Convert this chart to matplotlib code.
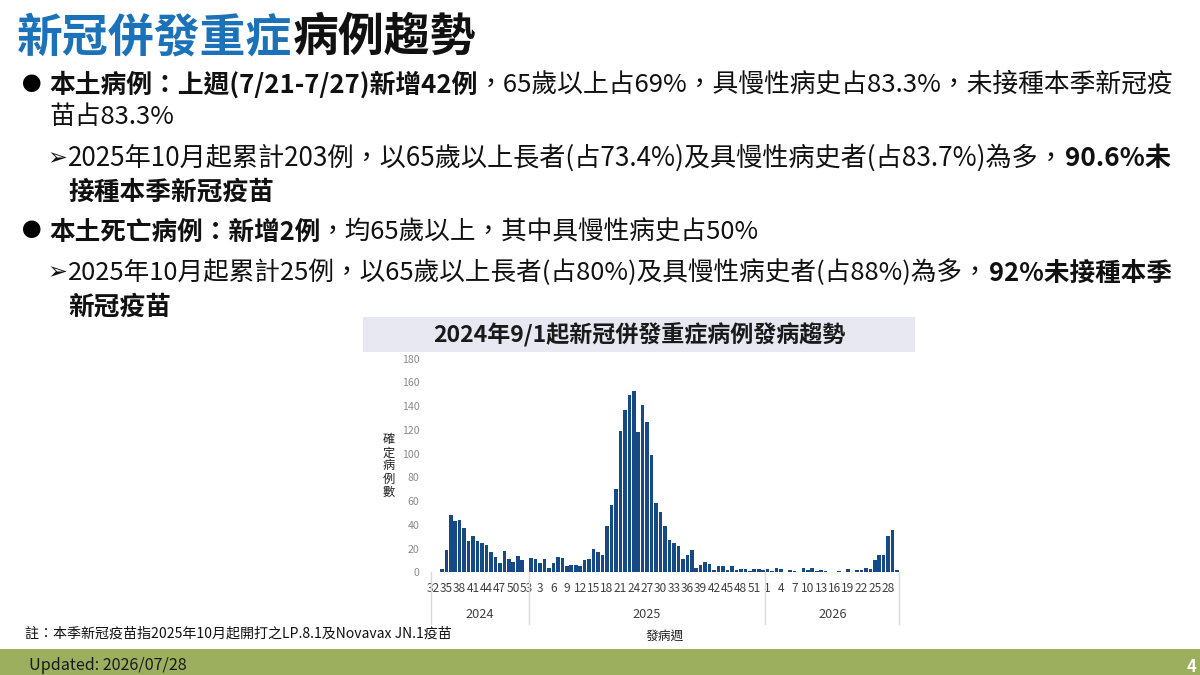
import matplotlib
matplotlib.use("Agg")
import matplotlib.pyplot as plt
from matplotlib.patches import Rectangle
from matplotlib.transforms import blended_transform_factory

FAM = ['Noto Sans CJK TC', 'DejaVu Sans']
plt.rcParams['font.family'] = FAM

cases_2024 = [0,0,3,19,48,43,44,37,26,31,26,25,23,17,13,8,18,11,9,14,10,0]
cases_2025 = [12,11,8,11,4,8,13,12,5,6,6,5,10,11,20,17,15,39,57,70,119,137,149,153,118,141,127,
              99,58,51,39,27,25,22,11,15,19,4,6,9,7,2,5,5,2,5,2,3,3,1,3,3,2]
cases_2026 = [3,1,4,3,0,2,1,0,4,2,4,1,2,1,0,0,1,0,3,0,2,2,4,3,10,15,15,31,36,2]
weeks_2024 = list(range(32, 54))
weeks_2025 = list(range(1, 54))
weeks_2026 = list(range(1, 31))
years = ['2024', '2025', '2026']
y_ticks = [0, 20, 40, 60, 80, 100, 120, 140, 160, 180]

W, H = 1200, 675
fig = plt.figure(figsize=(W/100, H/100), dpi=100, facecolor='white')
bg = fig.add_axes([0, 0, 1, 1])
bg.set_xlim(0, W); bg.set_ylim(H, 0); bg.axis('off')
renderer = fig.canvas.get_renderer()

def run(x, y, parts, size):
    for s, color, bold in parts:
        t = bg.text(x, y, s, fontsize=size, color=color, va='center', ha='left',
                    fontweight='bold' if bold else 'normal', family=FAM)
        x = t.get_window_extent(renderer).x1

BLUE = '#1B72B8'
K = '#111111'
run(17, 38, [('新冠併發重症', BLUE, True), ('病例趨勢', K, True)], 33)
B = 18.5
bg.text(22, 85, '●', fontsize=14, color='black', va='center', family=FAM)
bg.text(22, 231, '●', fontsize=14, color='black', va='center', family=FAM)
run(49, 85, [('本土病例：上週(7/21-7/27)新增42例', K, True), ('，65歲以上占69%，具慢性病史占83.3%，未接種本季新冠疫', K, False)], 18.57)
run(49, 117, [('苗占83.3%', K, False)], B)
bg.text(47, 158, '➢', fontsize=17, color=K, va='center', family=['DejaVu Sans'])
run(68, 158, [('2025年10月起累計203例，以65歲以上長者(占73.4%)及具慢性病史者(占83.7%)為多，', K, False), ('90.6%未', K, True)], 18.84)
run(68, 192, [('接種本季新冠疫苗', K, True)], B)
run(49, 232, [('本土死亡病例：新增2例', K, True), ('，均65歲以上，其中具慢性病史占50%', K, False)], 18.45)
bg.text(47, 272, '➢', fontsize=17, color=K, va='center', family=['DejaVu Sans'])
run(68, 273, [('2025年10月起累計25例，以65歲以上長者(占80%)及具慢性病史者(占88%)為多，', K, False), ('92%未接種本季', K, True)], 18.43)
run(68, 307, [('新冠疫苗', K, True)], B)

bg.add_patch(Rectangle((363, 317), 552, 35, facecolor='#E8E8F3', edgecolor='none'))
bg.text(639, 335, '2024年9/1起新冠併發重症病例發病趨勢', fontsize=16.6, fontweight='bold',
        color='#1a1a1a', ha='center', va='center', family=FAM)

bg.text(25, 634, '註：本季新冠疫苗指2025年10月起開打之LP.8.1及Novavax JN.1疫苗', fontsize=10.1,
        color=K, va='center', family=FAM)
bg.add_patch(Rectangle((0, 649), W, 26, facecolor='#9CAF5F', edgecolor='none'))
bg.text(29, 666, 'Updated: 2026/07/28', fontsize=11.6, color='#1a1a1a', fontweight='medium', va='center', family=FAM)
bg.text(1192, 667, '4', fontsize=12, color='white', fontweight='bold', ha='center', va='center', family=FAM)

# chart
L, R, Y0, Y180 = 430.7, 899.3, 572.3, 358.7
ax = fig.add_axes([L/W, 1-Y0/H, (R-L)/W, (Y0-Y180)/H])
ax.patch.set_alpha(0)
values = cases_2024 + cases_2025 + cases_2026
labels = weeks_2024 + weeks_2025 + weeks_2026
pos = list(range(len(values)))
ax.bar(pos, values, width=0.8, color='#174A84', linewidth=0)
ax.set_xlim(-0.5, len(values)-0.5)
ax.set_ylim(0, 180)
for s in ['top', 'right', 'left', 'bottom']:
    ax.spines[s].set_visible(False)
ax.set_yticks(y_ticks)
ax.tick_params(axis='y', length=0, labelsize=7.6, labelcolor='#8a8a8a', pad=8)
ticks = pos[::3]
ax.set_xticks(ticks)
ax.set_xticklabels([str(labels[i]) for i in ticks])
ax.tick_params(axis='x', length=0, labelsize=8.6, labelcolor='#404040', pad=7)

tr = blended_transform_factory(ax.transData, bg.transData)
n1, n2 = len(cases_2024), len(cases_2025)
edges = [-0.5, n1-0.5, n1+n2-0.5, len(values)-0.5]
for e in edges:
    ax.plot([e, e], [572.3, 624], transform=tr, color='#D9D9D9', lw=1, clip_on=False)
for i, yr in enumerate(years):
    ax.text((edges[i]+edges[i+1])/2, 615, yr, transform=tr, fontsize=9.2, color='#404040',
            ha='center', va='center', family=FAM)
bg.text(389, 466, '確\n定\n病\n例\n數', fontsize=8.8, color='#222222', fontweight='medium', ha='center', va='center',
        linespacing=1.0, family=FAM)
bg.text(665, 636, '發病週', fontsize=9.2, color='#222222', fontweight='medium', ha='center', va='center', family=FAM)

fig.savefig('out.png', dpi=100)
